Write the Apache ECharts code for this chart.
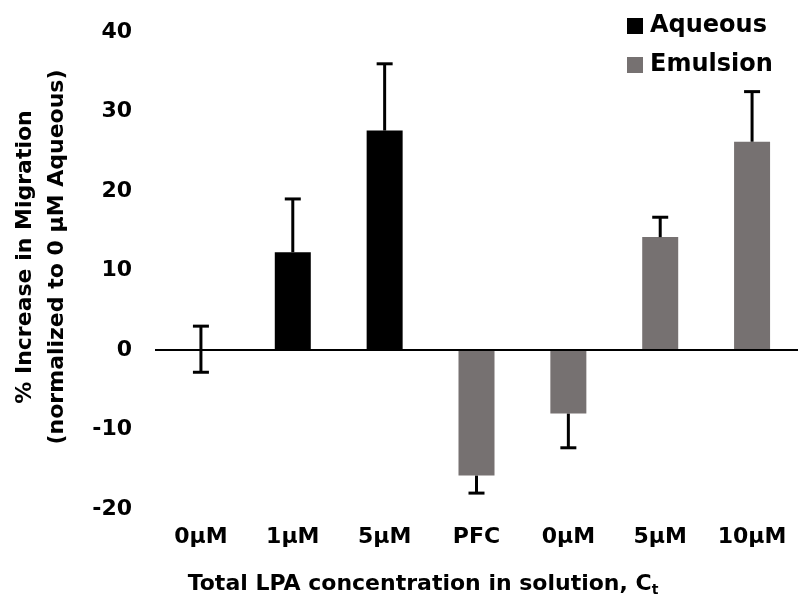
<!DOCTYPE html>
<html>
<head>
<meta charset="utf-8">
<script src="https://cdn.jsdelivr.net/npm/echarts@6/dist/echarts.min.js"></script>
<style>
    html, body { margin: 0; padding: 0; background: #fff; }
    #migration_con { width: 798px; height: 602px; }
</style>
</head>
<body>
<div id="migration_con"></div>
<script>
// categories along the x axis
let categories = ['0μM', '1μM', '5μM', 'PFC', '0μM', '5μM', '10μM'];
// bar heights (% increase), '-' where the group has no bar
let aqueousData = [0, 12.3, 27.6, '-', '-', '-', '-'];
let emulsionData = ['-', '-', '-', -15.8, -8.0, 14.2, 26.2];
// error bar ends, low / high
let errLow = [-2.8, 12.3, 27.6, -18.0, -12.3, 14.2, 26.2];
let errHigh = [3.0, 19.0, 36.0, -15.8, -8.0, 16.7, 32.5];
let yTicks = [-20, -10, 0, 10, 20, 30, 40];

let font = '"DejaVu Sans", sans-serif';
let errData = [];
for (let i = 0; i < categories.length; i++) {
    let v = aqueousData[i] !== '-' ? aqueousData[i] : emulsionData[i];
    errData.push([i, errLow[i], errHigh[i], v]);
}

var migrationChart = echarts.init(document.getElementById('migration_con'));
const option = {
    animation: false,
    textStyle: { fontFamily: font },
    grid: { left: 155, top: 32, width: 649, height: 477 },
    legend: {
        orient: 'vertical',
        left: 622,
        top: 9,
        icon: 'rect',
        itemWidth: 16,
        itemHeight: 16,
        itemGap: 15,
        textStyle: { fontFamily: font, fontSize: 24, fontWeight: 'bold', color: '#000', padding: [0, 0, 0, 2] },
        data: ['Aqueous', 'Emulsion']
    },
    xAxis: {
        type: 'category',
        data: categories,
        axisLine: { show: false, onZero: false },
        axisTick: { show: false },
        axisLabel: { margin: 17, fontSize: 22, fontWeight: 'bold', color: '#000', fontFamily: font }
    },
    yAxis: {
        type: 'value',
        min: yTicks[0],
        max: yTicks[yTicks.length - 1],
        interval: 10,
        axisLine: { show: false },
        axisTick: { show: false },
        splitLine: { show: false },
        axisLabel: { margin: 23, fontSize: 22, fontWeight: 'bold', color: '#000', fontFamily: font }
    },
    graphic: [
        {
            type: 'text',
            x: 41,
            y: 257,
            rotation: Math.PI / 2,
            style: {
                text: '% Increase in Migration\n(normalized to 0 μM Aqueous)',
                fontFamily: font,
                fontSize: 22,
                fontWeight: 'bold',
                lineHeight: 32,
                fill: '#000',
                align: 'center',
                verticalAlign: 'middle'
            }
        },
        {
            type: 'text',
            x: 423,
            y: 584,
            style: {
                text: '{a|Total LPA concentration in solution, C}{s|t}',
                align: 'center',
                verticalAlign: 'middle',
                rich: {
                    a: { fontFamily: font, fontSize: 22, fontWeight: 'bold', fill: '#000', color: '#000' },
                    s: { fontFamily: font, fontSize: 14, fontWeight: 'bold', fill: '#000', color: '#000', padding: [12, 0, 0, 0] }
                }
            }
        }
    ],
    series: [
        {
            name: 'Aqueous',
            type: 'bar',
            stack: 'all',
            barWidth: 36,
            itemStyle: { color: '#000000' },
            data: aqueousData,
            markLine: {
                silent: true,
                symbol: 'none',
                label: { show: false },
                lineStyle: { color: '#000', width: 2, type: 'solid' },
                data: [{ yAxis: 0 }]
            }
        },
        {
            name: 'Emulsion',
            type: 'bar',
            stack: 'all',
            barWidth: 36,
            itemStyle: { color: '#767171' },
            data: emulsionData
        },
        {
            type: 'custom',
            z: 5,
            data: errData,
            renderItem: function (params, api) {
                let lo = api.coord([api.value(0), api.value(1)]);
                let hi = api.coord([api.value(0), api.value(2)]);
                let v = api.value(3);
                let half = 8;
                let st = { stroke: '#000', lineWidth: 3 };
                let children = [
                    { type: 'line', shape: { x1: lo[0], y1: lo[1], x2: hi[0], y2: hi[1] }, style: st }
                ];
                if (api.value(1) < v) {
                    children.push({ type: 'line', shape: { x1: lo[0] - half, y1: lo[1], x2: lo[0] + half, y2: lo[1] }, style: st });
                }
                if (api.value(2) > v) {
                    children.push({ type: 'line', shape: { x1: hi[0] - half, y1: hi[1], x2: hi[0] + half, y2: hi[1] }, style: st });
                }
                return { type: 'group', children: children };
            }
        }
    ]
};
migrationChart.setOption(option);
window.addEventListener('resize', function () {
    migrationChart.resize();
});
</script>
</body>
</html>
